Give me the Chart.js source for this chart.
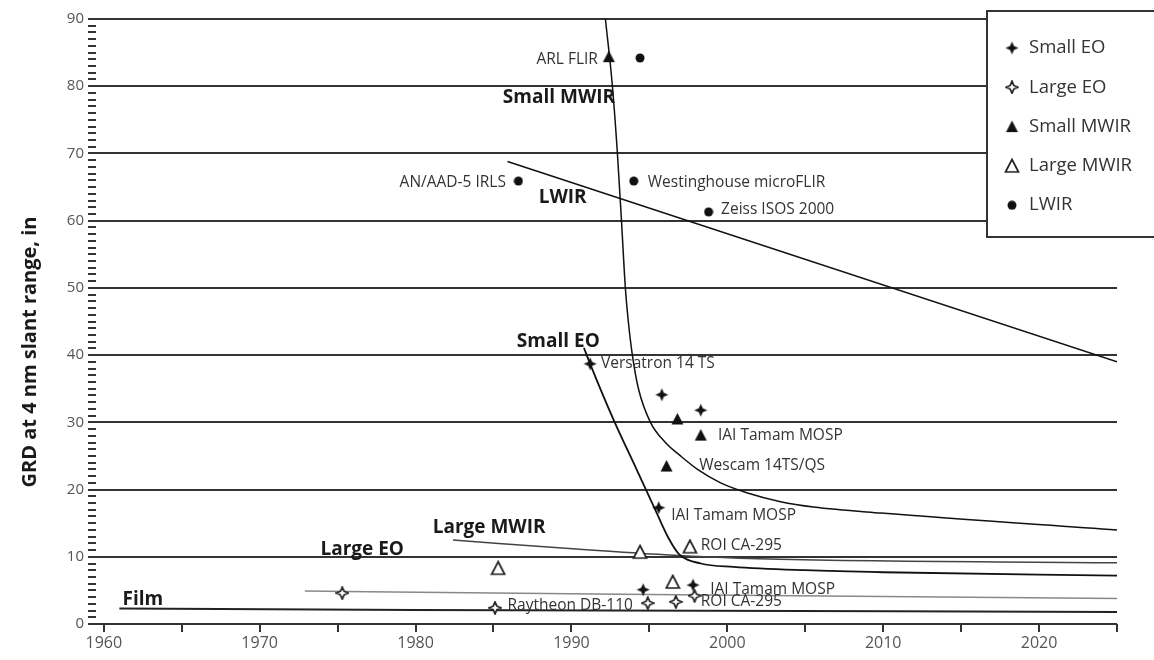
<!DOCTYPE html>
<html>
<head>
<meta charset="utf-8">
<title>GRD at 4 nm slant range</title>
<script src="https://cdn.jsdelivr.net/npm/chart.js@4.4.0/dist/chart.umd.min.js"></script>
<style>
  body { margin: 0; background: #fff; }
  #wrap { width: 1154px; height: 660px; }
</style>
</head>
<body>
<div id="wrap"><canvas id="graph" width="1154" height="660"></canvas></div>
<script>
// axis ticks
const xTickYears = [1960, 1965, 1970, 1975, 1980, 1985, 1990, 1995, 2000, 2005, 2010, 2015, 2020, 2025];
const yMin = 0, yMax = 90;

// sensor points (year, GRD in)
const smallEOYears = [1991.2, 1995.8, 1998.3, 1995.6, 1994.6, 1997.8];
const smallEOValues = [38.7, 34.1, 31.8, 17.3, 5.1, 5.8];
const largeEOYears = [1975.3, 1985.1, 1994.9, 1996.7, 1997.9];
const largeEOValues = [4.6, 2.4, 3.1, 3.3, 4.2];
const smallMWIRYears = [1992.4, 1996.8, 1998.3, 1996.1];
const smallMWIRValues = [84.4, 30.5, 28.1, 23.5];
const largeMWIRYears = [1985.3, 1994.4, 1997.6, 1996.5];
const largeMWIRValues = [8.3, 10.7, 11.5, 6.25];
const lwirYears = [1994.4, 1986.6, 1994.0, 1998.8];
const lwirValues = [84.2, 65.9, 65.9, 61.3];

// trend curves
const smallMWIRCurveYears = [1992.18, 1992.63, 1992.95, 1993.21, 1993.46, 1993.65, 1993.91, 1994.3, 1995.07, 1996.03, 1997.0, 1998.09, 1999.57, 2001.3, 2003.42, 2005.54, 2009.84, 2025];
const smallMWIRCurveValues = [90, 80, 70, 60, 50, 45, 40, 35, 30, 27, 25, 23, 21, 19.5, 18.2, 17.4, 16.5, 14.0];
const smallEOCurveYears = [1990.8, 1991.2, 1992.7, 1994.2, 1995.3, 1996.2, 1996.9, 1998.3, 2000.4, 2005, 2010, 2025];
const smallEOCurveValues = [41.1, 38.7, 30.4, 22.9, 17.4, 12.9, 10.4, 9.0, 8.5, 8.0, 7.7, 7.2];
const lwirTrendYears = [1985.9, 2025];
const lwirTrendValues = [68.8, 39.0];
const largeMWIRTrendYears = [1982.4, 1991.2, 1996, 2002, 2025];
const largeMWIRTrendValues = [12.5, 11.0, 10.3, 9.7, 9.1];
const largeEOTrendYears = [1972.9, 1985, 1995, 2025];
const largeEOTrendValues = [4.9, 4.6, 4.4, 3.8];
const filmTrendYears = [1961, 1980, 2025];
const filmTrendValues = [2.3, 2.1, 1.8];

// point notes
const noteTexts = ['ARL FLIR', 'AN/AAD-5 IRLS', 'Westinghouse microFLIR', 'Zeiss ISOS 2000', 'Versatron 14 TS', 'IAI Tamam MOSP', 'Wescam 14TS/QS', 'IAI Tamam MOSP', 'ROI CA-295', 'Raytheon DB-110', 'IAI Tamam MOSP', 'ROI CA-295'];
const noteYears = [1991.7, 1985.8, 1994.9, 1999.6, 1991.9, 1999.4, 1998.2, 1996.4, 1998.3, 1985.9, 1998.9, 1998.3];
const noteValues = [83.9, 65.6, 65.6, 61.6, 38.7, 28.1, 23.5, 16.2, 11.6, 2.8, 5.1, 3.4];
const noteAligns = ['right', 'right', 'left', 'left', 'left', 'left', 'left', 'left', 'left', 'left', 'left', 'left'];

// curve names
const curveNames = ['Small MWIR', 'LWIR', 'Small EO', 'Large MWIR', 'Large EO', 'Film'];
const curveNameYears = [1985.6, 1987.9, 1986.5, 1981.1, 1973.9, 1961.2];
const curveNameValues = [78.3, 63.5, 42.0, 14.3, 11.0, 3.6];

const legendNames = ['Small EO', 'Large EO', 'Small MWIR', 'Large MWIR', 'LWIR'];

Chart.defaults.font.family = "'Open Sans', sans-serif";
Chart.defaults.font.size = 16;

function makeSymbol(kind, filled, size) {
  const c = document.createElement('canvas');
  c.width = size; c.height = size;
  const g = c.getContext('2d');
  const m = size / 2;
  g.beginPath();
  if (kind === 'star') {
    const r = m - 1, k = r * 0.3;
    g.moveTo(m, m - r); g.lineTo(m + k, m - k); g.lineTo(m + r, m); g.lineTo(m + k, m + k);
    g.lineTo(m, m + r); g.lineTo(m - k, m + k); g.lineTo(m - r, m); g.lineTo(m - k, m - k);
    g.closePath();
  } else if (kind === 'tri') {
    g.moveTo(m, 1.5); g.lineTo(size - 1.5, size - 2); g.lineTo(1.5, size - 2); g.closePath();
  } else {
    g.arc(m, m, m - 0.5, 0, Math.PI * 2);
  }
  if (filled) {
    g.fillStyle = '#111'; g.fill();
  } else {
    g.fillStyle = '#fff'; g.fill();
    g.lineWidth = 1.7; g.strokeStyle = '#222'; g.stroke();
  }
  return c;
}

const symbols = [
  makeSymbol('star', true, 15),
  makeSymbol('star', false, 14),
  makeSymbol('tri', true, 15),
  makeSymbol('tri', false, 16),
  makeSymbol('dot', true, 10)
];

const pts = (xs, ys) => xs.map((x, i) => ({ x: x, y: ys[i] }));

function trend(label, xs, ys, color, width) {
  return {
    type: 'line', label: label, data: pts(xs, ys),
    borderColor: color, borderWidth: width, pointRadius: 0,
    cubicInterpolationMode: 'monotone', fill: false, order: 2
  };
}

function marks(label, xs, ys, sym) {
  return { type: 'scatter', label: label, data: pts(xs, ys), pointStyle: sym, pointRadius: 7, order: 0 };
}

const labelsPlugin = {
  id: 'labels',
  afterDatasetsDraw(chart) {
    const ctx = chart.ctx, xs = chart.scales.x, ys = chart.scales.y;
    ctx.save();
    ctx.textBaseline = 'middle';
    ctx.fillStyle = '#333';
    ctx.font = '15.5px "Open Sans"';
    noteTexts.forEach((t, i) => {
      ctx.textAlign = noteAligns[i];
      ctx.fillText(t, xs.getPixelForValue(noteYears[i]), ys.getPixelForValue(noteValues[i]));
    });
    ctx.fillStyle = '#1a1a1a';
    ctx.font = 'bold 19px "Open Sans"';
    ctx.textAlign = 'left';
    curveNames.forEach((t, i) => {
      ctx.fillText(t, xs.getPixelForValue(curveNameYears[i]), ys.getPixelForValue(curveNameValues[i]));
    });
    // axis title
    ctx.translate(30, 352);
    ctx.rotate(-Math.PI / 2);
    ctx.textAlign = 'center';
    ctx.font = 'bold 20px "Open Sans"';
    ctx.fillText('GRD at 4 nm slant range, in', 0, 0);
    ctx.restore();
  }
};

const boxLegendPlugin = {
  id: 'boxLegend',
  afterDraw(chart) {
    const ctx = chart.ctx;
    ctx.save();
    ctx.fillStyle = '#fff';
    ctx.fillRect(987, 11, 180, 226);
    ctx.strokeStyle = '#333';
    ctx.lineWidth = 2;
    ctx.strokeRect(987, 11, 180, 226);
    ctx.font = '18.5px "Open Sans"';
    ctx.fillStyle = '#333';
    ctx.textAlign = 'left';
    ctx.textBaseline = 'middle';
    legendNames.forEach((name, i) => {
      const y = 48 + i * 39.3;
      const s = symbols[i];
      ctx.drawImage(s, 1012 - s.width / 2, y - s.height / 2);
      ctx.fillText(name, 1029, y);
    });
    ctx.restore();
  }
};

new Chart(document.getElementById('graph').getContext('2d'), {
  type: 'scatter',
  data: {
    datasets: [
      marks('Small EO', smallEOYears, smallEOValues, symbols[0]),
      marks('Large EO', largeEOYears, largeEOValues, symbols[1]),
      marks('Small MWIR', smallMWIRYears, smallMWIRValues, symbols[2]),
      marks('Large MWIR', largeMWIRYears, largeMWIRValues, symbols[3]),
      marks('LWIR', lwirYears, lwirValues, symbols[4]),
      trend('Small MWIR trend', smallMWIRCurveYears, smallMWIRCurveValues, '#111', 1.5),
      trend('Small EO trend', smallEOCurveYears, smallEOCurveValues, '#111', 1.8),
      trend('LWIR trend', lwirTrendYears, lwirTrendValues, '#111', 1.5),
      trend('Large MWIR trend', largeMWIRTrendYears, largeMWIRTrendValues, '#444', 1.5),
      trend('Large EO trend', largeEOTrendYears, largeEOTrendValues, '#888', 1.5),
      trend('Film trend', filmTrendYears, filmTrendValues, '#222', 2)
    ]
  },
  options: {
    responsive: false,
    animation: false,
    events: [],
    layout: { padding: { left: 0, right: 37, top: 19, bottom: 0 } },
    plugins: { legend: { display: false }, tooltip: { enabled: false } },
    scales: {
      x: {
        type: 'linear',
        min: 1959.5,
        max: 2025,
        afterBuildTicks: s => { s.ticks = xTickYears.map(v => ({ value: v })); },
        afterFit: s => { s.height = 36; },
        border: { display: false },
        grid: { drawOnChartArea: false, tickColor: '#333', tickLength: 8, lineWidth: 2 },
        ticks: {
          autoSkip: false, maxRotation: 0, padding: 2,
          color: '#555', font: { size: 16 },
          callback: v => (v % 10 === 0 ? String(v) : '')
        }
      },
      y: {
        min: yMin,
        max: yMax,
        afterFit: s => { s.width = 96; },
        border: { display: false },
        grid: {
          color: c => (c.tick.value % 10 === 0 ? '#333' : 'rgba(0,0,0,0)'),
          tickColor: '#333',
          lineWidth: 2,
          tickLength: 8
        },
        ticks: {
          stepSize: 1, autoSkip: false, padding: 4,
          color: '#555', font: { size: 15 },
          callback: v => (v % 10 === 0 ? String(v) : '')
        }
      }
    }
  },
  plugins: [labelsPlugin, boxLegendPlugin]
});
</script>
</body>
</html>
